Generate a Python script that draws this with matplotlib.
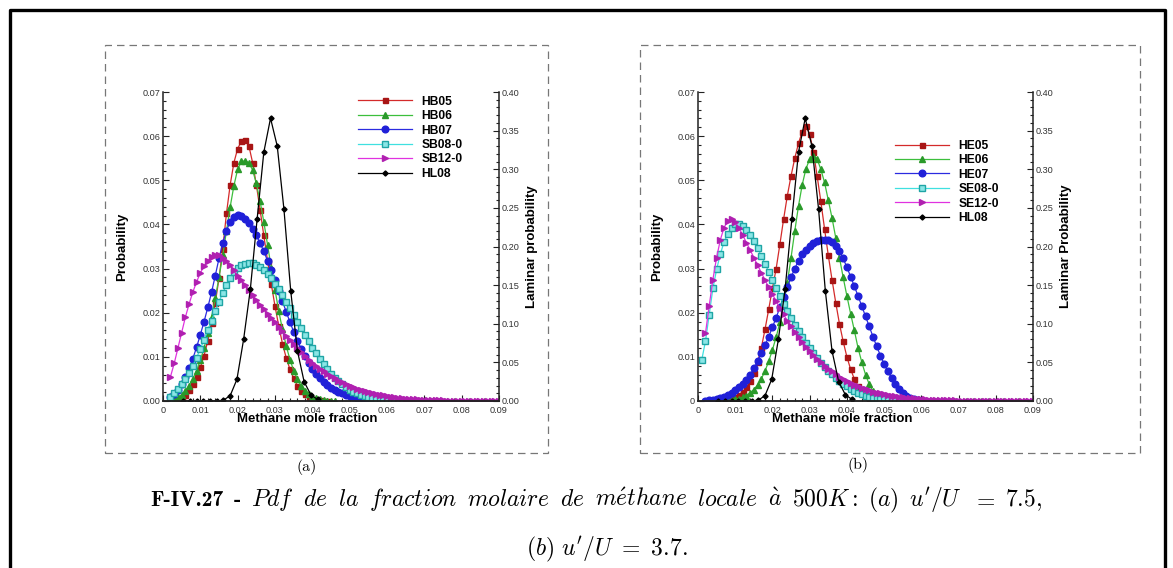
import numpy as np
import matplotlib
matplotlib.use('Agg')
import matplotlib.pyplot as plt
from matplotlib.lines import Line2D
from matplotlib.ticker import MultipleLocator

plt.rcParams['mathtext.fontset'] = 'cm'
plt.rcParams['font.family'] = ['Liberation Sans', 'DejaVu Sans']

# ---- data (probabilities in units of 1e-3, x grid step 0.001 starting at *_x0) ----
# panel (a): u'/U = 7.5
hb05_x0 = 4
hb05 = [0.2, 0.6, 1.3, 2.4, 3.8, 5.5, 7.6, 10.3, 13.6, 17.6, 22.2, 27.8, 34.5, 42.5,
        49.0, 54.0, 57.2, 58.8, 59.2, 57.8, 54.0, 49.0, 43.3, 37.5, 31.8, 26.5, 21.5,
        17.0, 13.0, 9.8, 7.2, 5.1, 3.5, 2.3, 1.5, 0.9, 0.5, 0.3, 0.15, 0.08, 0.03]
hb06_x0 = 3
hb06 = [0.3, 0.8, 1.4, 2.3, 3.5, 5.0, 6.9, 9.2, 12.0, 15.3, 19.0, 23.3, 28.0, 33.0,
        38.5, 44.0, 48.8, 52.5, 54.3, 54.4, 54.0, 52.3, 49.3, 45.3, 40.6, 35.4, 30.2,
        25.2, 20.4, 16.2, 12.5, 9.4, 6.9, 4.9, 3.4, 2.3, 1.5, 0.95, 0.6, 0.35, 0.2,
        0.1, 0.05, 0.02]
hb07_x0 = 2
hb07 = [0.8, 1.6, 2.6, 3.9, 5.5, 7.4, 9.6, 12.2, 15.0, 18.0, 21.2, 24.6, 28.4, 32.3,
        35.8, 38.6, 40.6, 41.7, 42.1, 42.0, 41.3, 40.3, 39.0, 37.5, 35.8, 33.9, 31.8,
        29.6, 27.3, 25.0, 22.6, 20.2, 17.9, 15.7, 13.7, 11.8, 10.1, 8.6, 7.3, 6.1, 5.1,
        4.3, 3.6, 3.0, 2.5, 2.1, 1.7, 1.4, 1.1, 0.9, 0.7, 0.55, 0.4, 0.3, 0.2, 0.12, 0.06]
sb08_x0 = 2
sb08 = [0.8, 1.7, 2.7, 3.8, 5.0, 6.4, 8.0, 9.8, 11.8, 13.9, 16.0, 18.2, 20.4, 22.5,
        24.5, 26.3, 27.9, 29.2, 30.1, 30.7, 31.0, 31.2, 31.2, 30.9, 30.4, 29.7, 28.8,
        27.8, 26.6, 25.3, 23.9, 22.5, 21.0, 19.5, 18.0, 16.5, 15.0, 13.5, 12.1, 10.8,
        9.5, 8.3, 7.2, 6.2, 5.3, 4.5, 3.8, 3.2, 2.6, 2.1, 1.7, 1.4, 1.1, 0.85, 0.65,
        0.5, 0.38, 0.28, 0.2, 0.15, 0.1, 0.07, 0.05, 0.03]
sb12_x0 = 2
sb12 = [5.5, 8.5, 12.0, 15.5, 19.0, 22.0, 24.7, 27.0, 29.0, 30.6, 31.8, 32.6, 33.0,
        33.0, 32.5, 31.7, 30.7, 29.6, 28.4, 27.3, 26.2, 25.1, 24.0, 22.9, 21.8, 20.8,
        19.8, 18.8, 17.8, 16.8, 15.8, 14.8, 13.8, 12.8, 11.9, 11.0, 10.2, 9.4, 8.7,
        8.0, 7.3, 6.7, 6.1, 5.6, 5.1, 4.6, 4.2, 3.8, 3.4, 3.1, 2.8, 2.5, 2.2, 2.0, 1.8,
        1.6, 1.4, 1.25, 1.1, 0.95, 0.85, 0.75, 0.65, 0.55, 0.48, 0.42, 0.36, 0.31,
        0.27, 0.23, 0.2, 0.17, 0.15, 0.13, 0.11, 0.09, 0.08, 0.07, 0.06, 0.05, 0.04,
        0.035, 0.03, 0.025, 0.02, 0.017, 0.014, 0.012, 0.01]

# panel (b): u'/U = 3.7
he05_x0 = 5
he05 = [0.05, 0.1, 0.2, 0.35, 0.6, 0.9, 1.4, 2.1, 3.1, 4.5, 6.3, 8.8, 12.0, 16.2,
        20.8, 25.5, 30.0, 35.5, 41.2, 46.5, 51.0, 55.0, 58.4, 61.0, 62.2, 60.5, 56.5,
        51.0, 45.2, 39.0, 33.0, 27.5, 22.3, 17.5, 13.5, 10.0, 7.2, 5.0, 3.4, 2.2, 1.3,
        0.7, 0.35, 0.15, 0.05]
he06_x0 = 7
he06 = [0.05, 0.1, 0.2, 0.35, 0.55, 0.8, 1.2, 1.8, 2.6, 3.6, 5.0, 6.8, 9.0, 11.6,
        14.5, 17.8, 21.8, 26.8, 32.5, 38.5, 44.2, 49.0, 52.6, 54.8, 55.6, 54.8, 52.5,
        49.5, 45.5, 41.5, 37.0, 32.5, 28.0, 23.8, 19.8, 16.0, 12.0, 8.8, 6.0, 3.8, 2.2,
        1.2, 0.6, 0.3, 0.1]
he07_x0 = 2
he07 = [0.1, 0.15, 0.2, 0.35, 0.6, 0.9, 1.4, 1.9, 2.5, 3.1, 3.9, 4.8, 6.0, 7.4, 9.0,
        10.8, 12.6, 14.6, 16.7, 18.9, 21.2, 23.5, 25.8, 28.0, 30.0, 31.8, 33.2, 34.3,
        35.2, 35.8, 36.2, 36.4, 36.5, 36.4, 36.0, 35.2, 34.0, 32.3, 30.3, 28.2, 26.0,
        23.8, 21.5, 19.2, 16.9, 14.6, 12.4, 10.3, 8.4, 6.7, 5.2, 3.9, 2.8, 1.9, 1.2,
        0.7, 0.4, 0.2, 0.1]
se08_x0 = 1
se08 = [9.3, 13.5, 19.5, 25.5, 29.8, 33.3, 36.0, 37.9, 39.3, 40.0, 40.1, 39.7, 38.8,
        37.6, 36.2, 34.6, 32.9, 31.1, 29.3, 27.4, 25.6, 23.8, 22.0, 20.3, 18.7, 17.2,
        15.8, 14.4, 13.1, 11.9, 10.8, 9.7, 8.7, 7.8, 6.9, 6.1, 5.3, 4.6, 3.9, 3.3, 2.8,
        2.3, 1.9, 1.5, 1.2, 0.95, 0.75, 0.6, 0.45, 0.35, 0.27, 0.2, 0.15, 0.11, 0.08,
        0.06, 0.04, 0.03, 0.02, 0.01]
se12_x0 = 2
se12 = [15.3, 21.5, 27.5, 32.5, 36.5, 39.3, 40.8, 41.2, 40.5, 39.2, 37.6, 35.9, 34.2,
        32.5, 30.8, 29.1, 27.4, 25.8, 24.2, 22.6, 21.1, 19.6, 18.2, 16.9, 15.6, 14.4,
        13.3, 12.3, 11.3, 10.4, 9.6, 8.8, 8.0, 7.3, 6.7, 6.1, 5.5, 5.0, 4.5, 4.1, 3.7,
        3.3, 3.0, 2.7, 2.4, 2.1, 1.9, 1.7, 1.5, 1.35, 1.2, 1.05, 0.95, 0.85, 0.75, 0.66,
        0.58, 0.5, 0.44, 0.38, 0.33, 0.29, 0.25, 0.22, 0.19, 0.16, 0.14, 0.12, 0.1,
        0.09, 0.08, 0.07, 0.06, 0.05, 0.045, 0.04, 0.035, 0.03, 0.025, 0.02, 0.018,
        0.016, 0.014, 0.012, 0.01, 0.009, 0.008, 0.007, 0.006]

# laminar case, plotted on the right axis (same in both panels)
hl08_x = [5.4, 7.2, 9.0, 10.8, 12.6, 14.4, 16.2, 18.0, 19.8, 21.6, 23.4, 25.2, 27.0,
          28.8, 30.6, 32.4, 34.2, 36.0, 37.8, 39.6, 41.4]
hl08_y = [0, 0, 0, 0, 0, 0, 0.001, 0.007, 0.028, 0.080, 0.145, 0.235, 0.322, 0.366,
          0.330, 0.248, 0.143, 0.065, 0.025, 0.008, 0.002]

xtick_labels = ['0', '0.01', '0.02', '0.03', '0.04', '0.05', '0.06', '0.07', '0.08', '0.09']
ytick_labels_a = ['0.00', '0.01', '0.02', '0.03', '0.04', '0.05', '0.06', '0.07']
ytick_labels_b = ['0', '0.01', '0.02', '0.03', '0.04', '0.05', '0.06', '0.07']
rtick_labels = ['0.00', '0.05', '0.10', '0.15', '0.20', '0.25', '0.30', '0.35', '0.40']

caption_bold = ['F-IV.27', '-']
caption_words = [r'$Pdf$', r'$de$', r'$la$', r'$fraction$', r'$molaire$', r'$de$',
                 r'$m\acute{e}thane$', r'$locale$', r'$\grave{a}$', r'$500K{:}$',
                 r'$(a)$', r"$u'/U$", r'$=$', r'$7.5,$']
caption_last = r"$(b)\ u'/U\ =\ 3.7.$"

# ---- styles ----
STYLE = [
    dict(color='#d42a2a', marker='s', ms=3.6, mfc='#a81515', mec='#a81515'),
    dict(color='#3cbf3c', marker='^', ms=3.8, mfc='#2a9a2a', mec='#2a9a2a'),
    dict(color='#2b2be0', marker='o', ms=4.8, mfc='#2020d8', mec='#2020d8'),
    dict(color='#3fe0e0', marker='s', ms=3.8, mfc='#8ae6e6', mec='#1fa5a5'),
    dict(color='#e032e0', marker='>', ms=3.8, mfc='#b020b0', mec='#b020b0'),
]

W, H = 1173, 568
fig = plt.figure(figsize=(W / 100, H / 100), dpi=100)


def rect(x0, y0, x1, y1):
    """pixel box (y from top) -> figure fraction [l, b, w, h]"""
    return [x0 / W, 1 - y1 / H, (x1 - x0) / W, (y1 - y0) / H]


def draw_panel(box, series, names, ylabels, right_label, leg_anchor):
    ax = fig.add_axes(rect(*box))
    handles = []
    for (x0, vals), name, st in zip(series, names, STYLE):
        x = (x0 + np.arange(len(vals))) * 1e-3
        h, = ax.plot(x, np.array(vals) * 1e-3, lw=0.9, label=name, **st)
        handles.append(h)
    ax.set_xlim(0, 0.09)
    ax.set_ylim(0, 0.07)
    ax.set_xticks(np.arange(10) * 0.01, xtick_labels)
    ax.set_yticks(np.arange(8) * 0.01, ylabels)
    ax.xaxis.set_minor_locator(MultipleLocator(0.002))
    ax.yaxis.set_minor_locator(MultipleLocator(0.002))
    ax.set_xlabel('Methane mole fraction', fontsize=9.5, fontweight='bold')
    ax.set_ylabel('Probability', fontsize=9.5, fontweight='bold')
    ax.xaxis.set_label_coords(0.43, -0.04)
    ax.yaxis.set_label_coords(-0.105, 0.5)

    ax2 = ax.twinx()
    h, = ax2.plot(np.array(hl08_x) * 1e-3, hl08_y, color='black', lw=0.9,
                  marker='D', ms=2.6, label='HL08')
    handles.append(h)
    ax2.set_ylim(0, 0.4)
    ax2.set_yticks(np.arange(9) * 0.05, rtick_labels)
    ax2.yaxis.set_minor_locator(MultipleLocator(0.01))
    ax2.set_ylabel(right_label, fontsize=9.5, fontweight='bold')
    ax2.yaxis.set_label_coords(1.08, 0.5)

    for a in (ax, ax2):
        a.tick_params(which='both', direction='in', labelsize=6.6,
                      labelcolor='#333333', width=0.8, color='#222222', pad=2)
        a.tick_params(which='major', length=4)
        a.tick_params(which='minor', length=2)
        a.spines['top'].set_visible(False)
        for s in a.spines.values():
            s.set_linewidth(1.1)
            s.set_color('#222222')
    ax.tick_params(axis='x', pad=3.5)
    ax.spines['right'].set_visible(False)
    ax2.spines['left'].set_visible(False)
    ax.tick_params(top=False, right=False)

    ax2.legend(handles=handles, loc='upper left', bbox_to_anchor=leg_anchor,
               frameon=False, numpoints=1, handlelength=4.5, handletextpad=0.75,
               labelspacing=0.2, borderpad=0, borderaxespad=0,
               prop=dict(size=8.7, weight='bold'))
    return ax


draw_panel((163, 92, 499, 401),
           [(hb05_x0, hb05), (hb06_x0, hb06), (hb07_x0, hb07), (sb08_x0, sb08), (sb12_x0, sb12)],
           ['HB05', 'HB06', 'HB07', 'SB08-0', 'SB12-0'],
           ytick_labels_a, 'Laminar probability', (0.58, 0.988))
draw_panel((698, 92, 1033, 401),
           [(he05_x0, he05), (he06_x0, he06), (he07_x0, he07), (se08_x0, se08), (se12_x0, se12)],
           ['HE05', 'HE06', 'HE07', 'SE08-0', 'SE12-0'],
           ytick_labels_b, 'Laminar Probability', (0.588, 0.845))

# dashed frames around each panel
for (x0, y0, x1, y1) in [(105, 45, 548, 453), (640, 45, 1140, 453)]:
    l, b, w, h = rect(x0, y0, x1, y1)
    fig.add_artist(plt.Rectangle((l, b), w, h, transform=fig.transFigure, fill=False,
                                 ec='#777777', lw=0.9, ls=(0, (6, 4))))

# thick outer frame (left, top, right)
fx = [9.5 / W, 9.5 / W, 1164.5 / W, 1164.5 / W]
fy = [0, 1 - 9.5 / H, 1 - 9.5 / H, 0]
fig.add_artist(Line2D(fx, fy, transform=fig.transFigure, color='black', lw=2.4))

# sub-captions
fig.text(307 / W, 1 - 471 / H, '(a)', fontfamily='cmr10', fontsize=11.5, ha='center', va='baseline')
fig.text(858 / W, 1 - 469 / H, '(b)', fontfamily='cmr10', fontsize=11.5, ha='center', va='baseline')

# justified first caption line: words spread between x=150 and x=1042
base1 = 1 - 506 / H
words = [fig.text(0, base1, w, fontfamily='cmb10', fontsize=15.5, va='baseline') for w in caption_bold]
words += [fig.text(0, base1, w, fontsize=17, va='baseline') for w in caption_words]
fig.canvas.draw()
renderer = fig.canvas.get_renderer()
widths = [t.get_window_extent(renderer).width for t in words]
gap = (1042 - 150 - sum(widths)) / (len(words) - 1)
xpos = 150.0
for t, wd in zip(words, widths):
    t.set_x(xpos / W)
    xpos += wd + gap

fig.text(607 / W, 1 - 555 / H, caption_last, fontsize=17, ha='center', va='baseline')

fig.savefig('out.png', dpi=100)
